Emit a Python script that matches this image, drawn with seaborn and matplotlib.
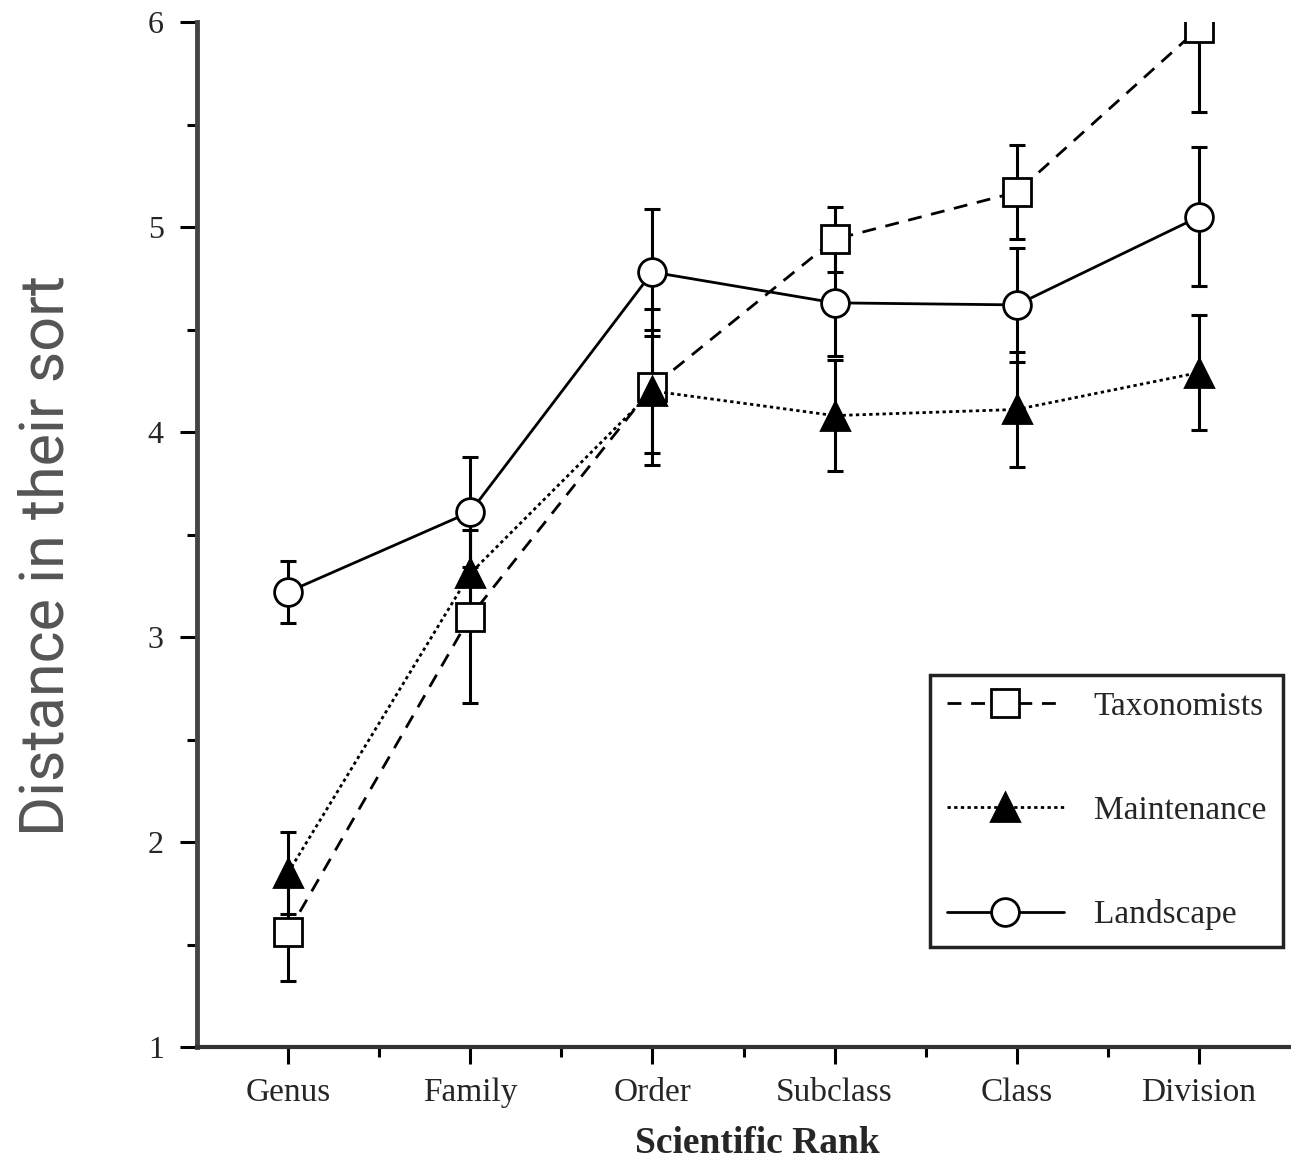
import numpy as np
import pandas as pd
import matplotlib
matplotlib.use("Agg")
import matplotlib.pyplot as plt
import seaborn as sns
from matplotlib.ticker import MultipleLocator, FixedLocator

ranks = ["Genus", "Family", "Order", "Subclass", "Class", "Division"]
tax_mean = [1.56, 3.10, 4.22, 4.94, 5.17, 5.97]
tax_err = [0.24, 0.42, 0.38, 0.16, 0.23, 0.41]
maint_mean = [1.85, 3.31, 4.20, 4.08, 4.11, 4.29]
maint_err = [0.20, 0.25, 0.30, 0.27, 0.28, 0.28]
land_mean = [3.22, 3.61, 4.78, 4.63, 4.62, 5.05]
land_err = [0.15, 0.27, 0.31, 0.26, 0.28, 0.34]
groups = ["Taxonomists", "Maintenance", "Landscape"]

sns.set_theme(style="white")
plt.rcParams["font.family"] = ["Liberation Serif", "DejaVu Serif"]

fig = plt.figure(figsize=(12.91, 11.66), dpi=100)
ax = fig.add_axes([197 / 1291, 1 - 1047 / 1166, (1290 - 197) / 1291, (1047 - 22) / 1166])

x = np.arange(len(ranks))
styles = {
    "Taxonomists": dict(marker="s", ls=(0, (5, 3.5)), mfc="white"),
    "Maintenance": dict(marker="^", ls=(0, (1.2, 1.2)), mfc="black"),
    "Landscape": dict(marker="o", ls="-", mfc="white"),
}
series = {
    "Taxonomists": (tax_mean, tax_err),
    "Maintenance": (maint_mean, maint_err),
    "Landscape": (land_mean, land_err),
}

for g in groups:
    m, e = series[g]
    ax.errorbar(x, m, yerr=e, fmt="none", ecolor="black", elinewidth=2.2,
                capsize=6, capthick=2.2, zorder=2)

for g in groups:
    m, e = series[g]
    df = pd.DataFrame({"x": x, "y": m})
    st = styles[g]
    sns.lineplot(data=df, x="x", y="y", ax=ax, color="black", linewidth=2.0,
                 linestyle=st["ls"], marker=st["marker"], markersize=20,
                 markerfacecolor=st["mfc"], markeredgecolor="black",
                 markeredgewidth=2.0, label=g, zorder=3)

ax.set_xlim(-0.5, 5.5)
ax.set_ylim(1, 6)
ax.set_xticks(x)
ax.set_xticklabels(ranks, fontsize=24)
ax.xaxis.set_minor_locator(FixedLocator(x[:-1] + 0.5))
ax.yaxis.set_major_locator(MultipleLocator(1))
ax.yaxis.set_minor_locator(MultipleLocator(0.5))
ax.tick_params(axis="y", labelsize=23)
ax.tick_params(which="major", direction="out", length=12, width=2.2, color="black",
               left=True, bottom=True)
ax.tick_params(which="minor", direction="out", length=7, width=2.2, color="black",
               left=True, bottom=True)
ax.tick_params(axis="y", pad=12)
ax.tick_params(axis="x", pad=10)

for s in ["top", "right"]:
    ax.spines[s].set_visible(False)
ax.spines["left"].set_color("#444444")
ax.spines["left"].set_linewidth(3.5)
ax.spines["bottom"].set_color("#333333")
ax.spines["bottom"].set_linewidth(3.0)

ax.set_xlabel("Scientific Rank", fontsize=27, fontweight="bold")
ax.xaxis.set_label_coords((757 - 197) / (1290 - 197), -0.077)
ax.set_ylabel("")
fig.text(47 / 1291, 1 - 555 / 1166, "Distance in their sort", rotation=90,
         ha="center", va="center", fontsize=44, color="#555555",
         family=["Roboto", "DejaVu Sans"], fontweight="normal")

leg = ax.legend(loc="upper left", bbox_to_anchor=(0.671, 0.363), borderaxespad=0,
                fontsize=24, handlelength=3.5, labelspacing=2.2, borderpad=0.5,
                handletextpad=0.9, fancybox=False, frameon=True)
leg.get_frame().set_edgecolor("#222222")
leg.get_frame().set_linewidth(2.5)
leg.get_frame().set_facecolor("white")
leg.get_frame().set_alpha(1)

fig.savefig("out.png", dpi=100)
